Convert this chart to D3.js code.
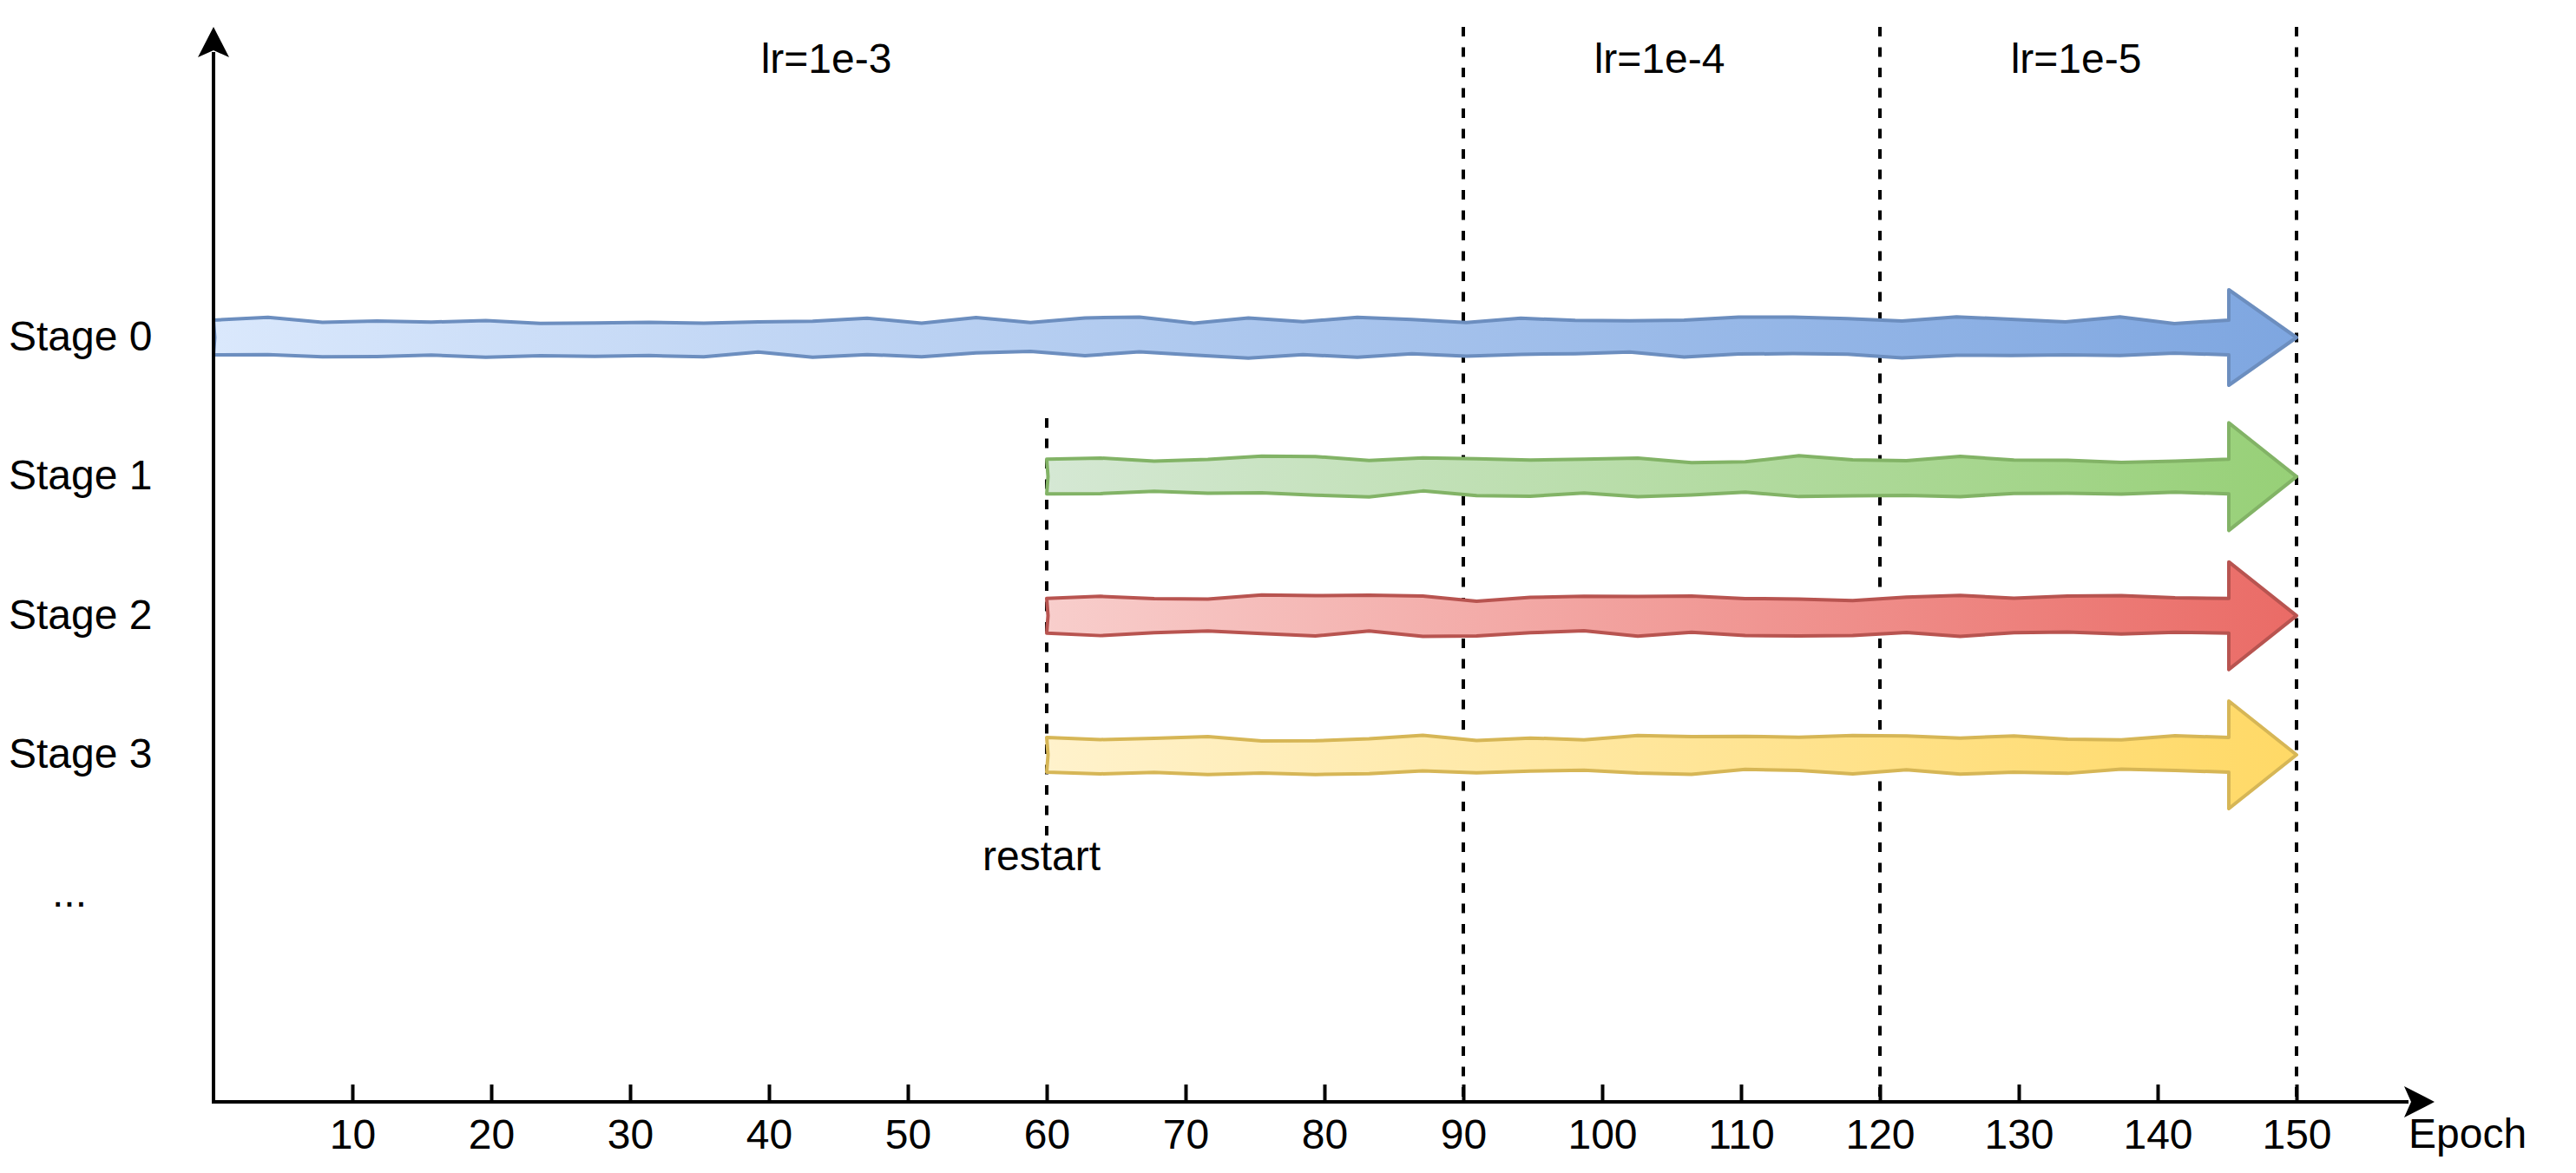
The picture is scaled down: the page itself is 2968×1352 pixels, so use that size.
<!DOCTYPE html>
<html>
<head>
<meta charset="utf-8">
<script src="https://cdn.jsdelivr.net/npm/d3@7"></script>
<style>
  body { margin: 0; background: #fff; }
  text { font-family: "Liberation Sans", Arial, sans-serif; font-size: 48px; fill: #000; }
</style>
</head>
<body>
<div id="chart"></div>
<script>
// data
const stageNames = ["Stage 0", "Stage 1", "Stage 2", "Stage 3"];
const stageStart = [0, 60, 60, 60];
const stageEnd = [150, 150, 150, 150];
const lrBounds = [0, 90, 120, 150];
const lrNames = ["lr=1e-3", "lr=1e-4", "lr=1e-5"];
const tickValues = [10, 20, 30, 40, 50, 60, 70, 80, 90, 100, 110, 120, 130, 140, 150];
const restartEpoch = 60;

// styles (draw.io palette)
const stageStyle = [
  { from: "#dae8fc", to: "#7ea6e0", stroke: "#6c8ebf", head: 55 },
  { from: "#d5e8d4", to: "#97d077", stroke: "#82b366", head: 62 },
  { from: "#f8cecc", to: "#ea6b66", stroke: "#b85450", head: 62 },
  { from: "#fff2cc", to: "#ffd966", stroke: "#d6b656", head: 62 }
];

const W = 2968, H = 1352;
const axisY = 1270, axisTop = 31;

const svg = d3.select("#chart").append("svg")
  .attr("width", W).attr("height", H);

const x = d3.scaleLinear().domain([0, 150]).range([246, 2646]);
const y = d3.scaleLinear().domain([0, 3]).range([389, 870]);

// deterministic wobble for the sketchy outline
function wob(n, seed) {
  const v = Math.sin(n * 127.1 + seed * 311.7) * 43758.5453;
  return (v - Math.floor(v)) - 0.5;
}

const defs = svg.append("defs");
stageStyle.forEach((s, i) => {
  const g = defs.append("linearGradient").attr("id", "grad" + i)
    .attr("x1", 0).attr("x2", 1).attr("y1", 0).attr("y2", 0);
  g.append("stop").attr("offset", 0).attr("stop-color", s.from);
  g.append("stop").attr("offset", 1).attr("stop-color", s.to);
});

// lr boundaries, dashed
svg.append("g").selectAll("line")
  .data(lrBounds.slice(1))
  .join("line")
  .attr("x1", d => x(d)).attr("x2", d => x(d))
  .attr("y1", axisTop).attr("y2", axisY)
  .attr("stroke", "#000").attr("stroke-width", 4)
  .attr("stroke-dasharray", "11 12.5");

// lr labels
svg.append("g").selectAll("text")
  .data(lrNames)
  .join("text")
  .attr("x", (d, i) => (x(lrBounds[i]) + x(lrBounds[i + 1])) / 2 - 14)
  .attr("y", 84)
  .attr("text-anchor", "middle")
  .text(d => d);

// restart line + label
svg.append("line")
  .attr("x1", x(restartEpoch)).attr("x2", x(restartEpoch))
  .attr("y1", 482).attr("y2", 968)
  .attr("stroke", "#000").attr("stroke-width", 4)
  .attr("stroke-dasharray", "11 12.5");
svg.append("text")
  .attr("x", x(restartEpoch) - 6).attr("y", 1003)
  .attr("text-anchor", "middle")
  .text("restart");

// sketchy arrows
const line = d3.line();
function arrowPoints(i) {
  const x0 = x(stageStart[i]), x1 = x(stageEnd[i]);
  const c = y(i), hb = 20, hh = stageStyle[i].head;
  const xb = x1 - 78;
  const pts = [];
  const n = Math.max(2, Math.round((xb - x0) / 62));
  for (let k = 0; k <= n; k++) {
    const px = x0 + (xb - x0) * k / n;
    const j = (k === 0 || k === n) ? 0 : wob(k, i * 2 + 1) * 8;
    pts.push([px, c - hb + j]);
  }
  pts.push([xb, c - hh], [x1, c], [xb, c + hh]);
  for (let k = n; k >= 0; k--) {
    const px = x0 + (xb - x0) * k / n;
    const j = (k === 0 || k === n) ? 0 : wob(k, i * 2 + 2) * 8;
    pts.push([px, c + hb + j]);
  }
  pts.push([x0 + 1.5, c]);
  return pts;
}

svg.append("g").selectAll("path")
  .data(stageNames)
  .join("path")
  .attr("d", (d, i) => line(arrowPoints(i)) + "Z")
  .attr("fill", (d, i) => "url(#grad" + i + ")")
  .attr("stroke", (d, i) => stageStyle[i].stroke)
  .attr("stroke-width", 4)
  .attr("stroke-linejoin", "round");

// stage labels
svg.append("g").selectAll("text")
  .data(stageNames.concat(["..."]))
  .join("text")
  .attr("x", (d, i) => i < 4 ? 10 : 60)
  .attr("y", (d, i) => y(i) + 15)
  .text(d => d);

// x axis ticks + labels
const xAxis = d3.axisBottom(x)
  .tickValues(tickValues)
  .tickSizeInner(-20)
  .tickSizeOuter(0)
  .tickPadding(20)
  .tickFormat(d3.format("d"));
const gx = svg.append("g").attr("transform", `translate(0,${axisY})`).call(xAxis);
gx.select(".domain").remove();
gx.selectAll(".tick line").attr("stroke", "#000").attr("stroke-width", 4);
gx.selectAll(".tick text")
  .attr("font-family", null).attr("font-size", null)
  .style("font-family", "'Liberation Sans', Arial, sans-serif")
  .style("font-size", "48px").attr("fill", "#000");

// axes with arrow heads
svg.append("line")
  .attr("x1", 246).attr("x2", 2775).attr("y1", axisY).attr("y2", axisY)
  .attr("stroke", "#000").attr("stroke-width", 4);
svg.append("line")
  .attr("x1", 246).attr("x2", 246).attr("y1", axisY + 2).attr("y2", 60)
  .attr("stroke", "#000").attr("stroke-width", 4);
svg.append("path")
  .attr("d", line([[2805, axisY], [2770, axisY - 18], [2778, axisY], [2770, axisY + 18]]) + "Z")
  .attr("fill", "#000");
svg.append("path")
  .attr("d", line([[246, axisTop], [228, 66], [246, 58], [264, 66]]) + "Z")
  .attr("fill", "#000");

svg.append("text")
  .attr("x", 2775).attr("y", 1323)
  .text("Epoch");
</script>
</body>
</html>
